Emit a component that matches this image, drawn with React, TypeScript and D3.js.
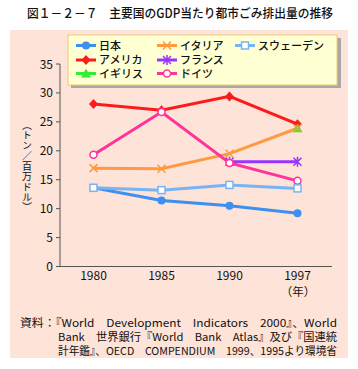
import React from "react";
import * as d3 from "d3";

const years = ["1980", "1985", "1990", "1997"];
const yTicks = [0, 5, 10, 15, 20, 25, 30, 35];

const japan = [13.6, 11.4, 10.5, 9.2];
const usa = [28.1, 27.0, 29.4, 24.6];
const uk = [null, null, null, 23.9];
const italy = [17.0, 16.9, 19.5, 23.9];
const france = [null, null, 18.1, 18.1];
const germany = [19.3, 26.7, 17.9, 14.8];
const sweden = [13.6, 13.2, 14.1, 13.5];

const series = [
  { name: "日本", values: japan, color: "#3d8ff0", marker: "dot" },
  { name: "アメリカ", values: usa, color: "#ff1a1a", marker: "diamond" },
  { name: "イギリス", values: uk, color: "#33ee33", marker: "triangle" },
  { name: "イタリア", values: italy, color: "#ff9a40", marker: "cross" },
  { name: "フランス", values: france, color: "#9933ff", marker: "star" },
  { name: "ドイツ", values: germany, color: "#ff3399", marker: "ring" },
  { name: "スウェーデン", values: sweden, color: "#77b4f5", marker: "square" },
];

// legend grid: [column, row]
const legendSlots: Record<string, [number, number]> = {
  日本: [0, 0],
  アメリカ: [0, 1],
  イギリス: [0, 2],
  イタリア: [1, 0],
  フランス: [1, 1],
  ドイツ: [1, 2],
  スウェーデン: [2, 0],
};

const FONT = "'Noto Sans CJK JP', sans-serif";

const Marker = ({ type, x, y, color }: { type: string; x: number; y: number; color: string }) => {
  switch (type) {
    case "dot":
      return <circle cx={x} cy={y} r={4} fill={color} />;
    case "diamond":
      return <path d={`M${x},${y - 5}L${x + 4.5},${y}L${x},${y + 5}L${x - 4.5},${y}Z`} fill={color} />;
    case "triangle":
      return <path d={`M${x},${y - 5}L${x + 5},${y + 4}L${x - 5},${y + 4}Z`} fill={color} />;
    case "cross":
      return (
        <path d={`M${x - 4},${y - 4}L${x + 4},${y + 4}M${x - 4},${y + 4}L${x + 4},${y - 4}`} stroke={color} strokeWidth={1.5} />
      );
    case "star":
      return (
        <path
          d={`M${x - 4},${y - 4}L${x + 4},${y + 4}M${x - 4},${y + 4}L${x + 4},${y - 4}M${x},${y - 5}L${x},${y + 5}`}
          stroke={color}
          strokeWidth={1.5}
        />
      );
    case "ring":
      return <circle cx={x} cy={y} r={3.5} fill="#fff" stroke={color} strokeWidth={1.5} />;
    case "square":
      return <rect x={x - 3.5} y={y - 3.5} width={7} height={7} fill="#fff" stroke={color} strokeWidth={1.5} />;
    default:
      return null;
  }
};

const App = () => {
  const xScale = d3.scalePoint<string>().domain(years).range([93.5, 297.5]);
  const yScale = d3.scaleLinear().domain([0, 35]).range([266.5, 64]);

  const line = d3
    .line<number | null>()
    .defined((d) => d != null)
    .x((d, i) => xScale(years[i]) as number)
    .y((d) => yScale(d as number));

  const legendX = [76, 157, 235];
  const legendY = [45.5, 60, 73.5];

  return (
    <svg
      width={358}
      height={369}
      style={{ position: "absolute", left: 0, top: 0, background: "#fff" }}
      fontFamily={FONT}
    >
      <text x={27} y={18} fontSize={12.5} fontWeight={500} fill="#111" textLength={306} lengthAdjust="spacingAndGlyphs">
        図１－２－７　主要国のGDP当たり都市ごみ排出量の推移
      </text>

      <rect x={10} y={30} width={338} height={328} fill="#fde3d8" />

      {/* legend */}
      <rect x={71} y={38} width={270} height={50} fill="#a8a8a8" />
      <rect x={68} y={35} width={269} height={50} fill="#ffffd4" stroke="#f5c870" strokeWidth={1} />
      {series.map((s) => {
        const [c, r] = legendSlots[s.name];
        const x = legendX[c];
        const y = legendY[r];
        return (
          <g key={s.name}>
            <line x1={x} x2={x + 20} y1={y} y2={y} stroke={s.color} strokeWidth={3} />
            <Marker type={s.marker} x={x + 10} y={y} color={s.color} />
            <text x={x + 23} y={y + 4} fontSize={11} fontWeight={500} fill="#111">
              {s.name}
            </text>
          </g>
        );
      })}

      {/* axes */}
      <line x1={60} x2={60} y1={64} y2={266.5} stroke="#555" />
      <line x1={60} x2={332} y1={266.5} y2={266.5} stroke="#555" />
      {yTicks.map((t) => (
        <g key={t}>
          <line x1={56} x2={60} y1={yScale(t)} y2={yScale(t)} stroke="#555" />
          <text x={53} y={yScale(t) + 4.5} textAnchor="end" fontSize={12} fill="#111">
            {t}
          </text>
        </g>
      ))}
      {years.map((yr) => (
        <text key={yr} x={xScale(yr)} y={280} textAnchor="middle" fontSize={12} fill="#111">
          {yr}
        </text>
      ))}
      <text x={298} y={296} textAnchor="middle" fontSize={11.5} fill="#111">
        （年）
      </text>
      <text
        x={27}
        y={120}
        fontSize={10}
        fill="#111"
        style={{ writingMode: "vertical-rl", letterSpacing: "0.3px" }}
      >
        （トン／百万ドル）
      </text>

      {/* lines */}
      {series.map((s) => (
        <path key={s.name} d={line(s.values) || ""} fill="none" stroke={s.color} strokeWidth={3} />
      ))}
      {series.map((s) =>
        s.values.map((v, i) =>
          v == null ? null : (
            <Marker key={s.name + i} type={s.marker} x={xScale(years[i]) as number} y={yScale(v)} color={s.color} />
          )
        )
      )}

      {/* source */}
      <g fontSize={11} fill="#111">
        <text x={20} y={327} textLength={317} lengthAdjust="spacingAndGlyphs">
          資料：『World　Development　Indicators　2000』、World
        </text>
        <text x={58} y={341} textLength={279} lengthAdjust="spacingAndGlyphs">
          Bank　世界銀行『World　Bank　Atlas』及び『国連統
        </text>
        <text x={58} y={355} textLength={279} lengthAdjust="spacingAndGlyphs">
          計年鑑』、OECD　COMPENDIUM　1999、1995より環境省
        </text>
      </g>
    </svg>
  );
};

export default App;
